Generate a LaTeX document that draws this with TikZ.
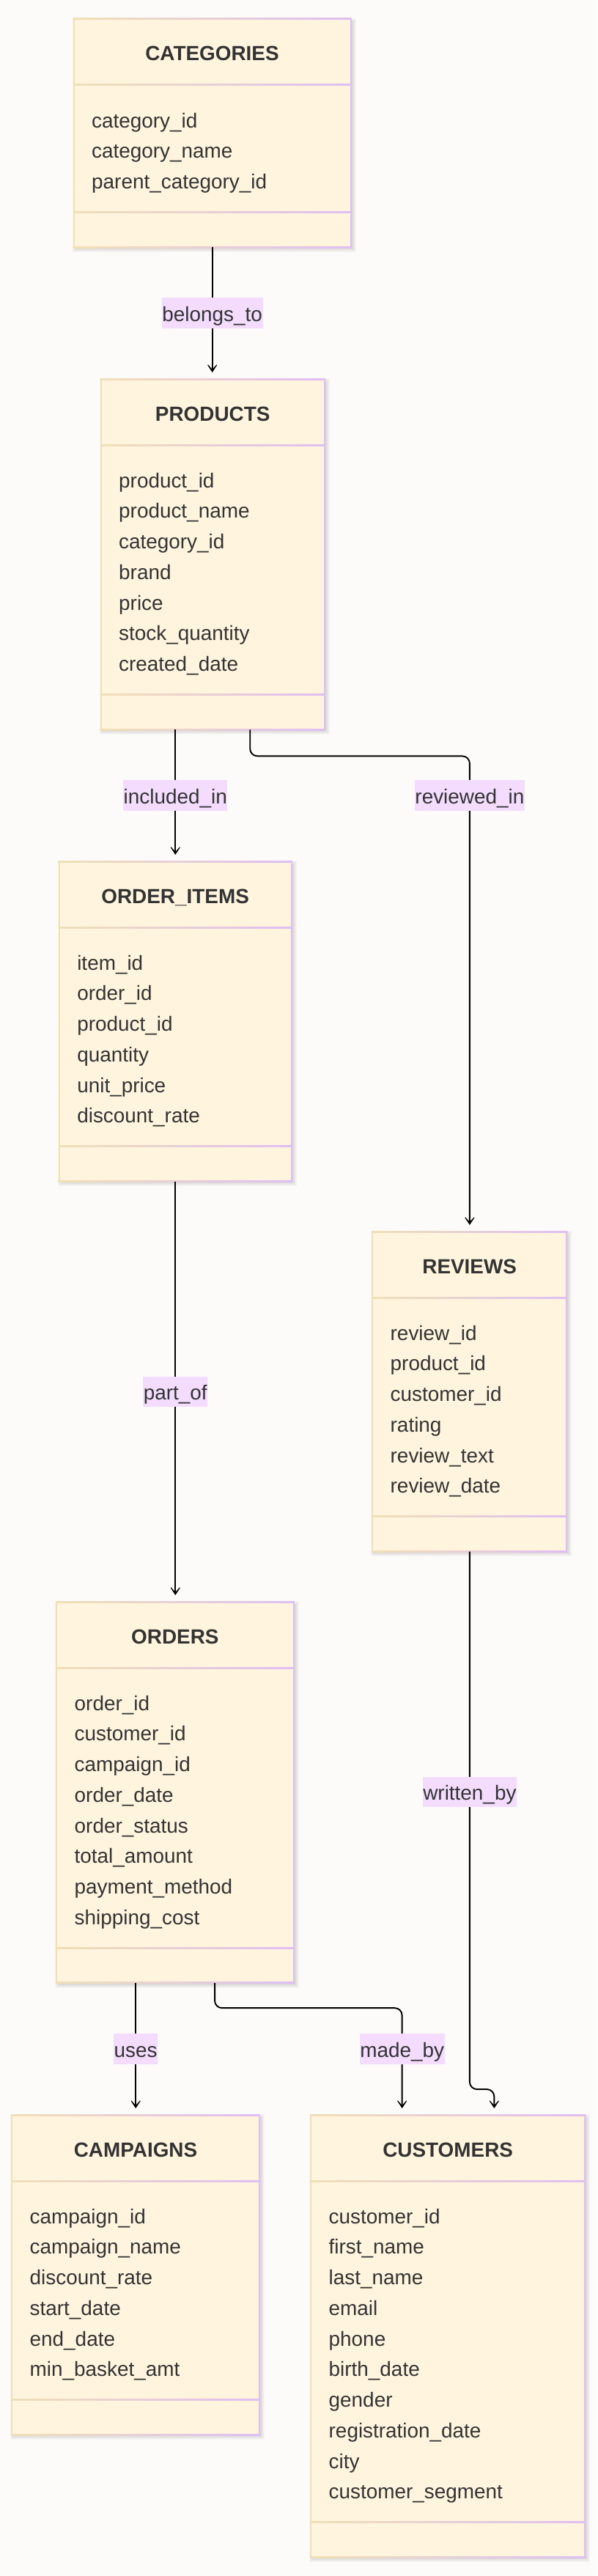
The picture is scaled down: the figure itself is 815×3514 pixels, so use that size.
\documentclass[tikz,border=0pt]{standalone}
\usepackage{fontspec}
\setmainfont{Liberation Sans}
\usetikzlibrary{arrows.meta}
\definecolor{bgc}{RGB}{253,251,250}
\definecolor{boxfill}{RGB}{255,245,223}
\definecolor{tanb}{RGB}{240,224,182}
\definecolor{lavb}{RGB}{223,190,245}
\definecolor{lblfill}{RGB}{243,220,254}
\definecolor{txt}{RGB}{51,51,51}
\tikzset{
  fld/.style={inner sep=0pt, text=txt, font=\fontsize{27.9pt}{33pt}\selectfont},
  ttl/.style={inner sep=0pt, text=txt, font=\fontsize{27.9pt}{33pt}\selectfont\bfseries},
  lbl/.style={fill=lblfill, text=txt, inner xsep=0.6pt, inner ysep=0pt, minimum height=41.6pt,
              text height=27pt, text depth=5pt, font=\fontsize{27.9pt}{33pt}\selectfont},
  conn/.style={draw=black, line width=1.9pt, shorten >=9pt,
              -{Stealth[length=16pt,width=21pt,inset=12pt]}},
}
\newcommand\erentity[7]{%
  \pgfmathsetmacro\eB{#4+227.5+41.75*(#5-1)}%
  \pgfmathsetmacro\eW{#3-#2}%
  \pgfmathsetmacro\eH{\eB-#4}%
  \pgfmathsetmacro\eS{\eB-47.5}%
  \pgfmathsetmacro\eC{(#2+#3)/2}%
  \foreach \k in {0,1,2,3,4,5}{\fill[black,opacity=0.022] (#2+3-\k,#4+4-\k) rectangle (#3+2+\k,\eB+2+\k);}
  \node[inner sep=0pt, minimum width={\eW pt}, minimum height={\eH pt}, fill=boxfill, anchor=north west] (#1) at (#2,#4) {};
  \shade[left color=tanb,right color=lavb] (#2-1,#4-1) rectangle (#3+1,#4+1);
  \shade[left color=tanb,right color=lavb] (#2-1,\eB-1) rectangle (#3+1,\eB+1);
  \shade[left color=tanb,right color=lavb] (#2,#4+89) rectangle (#3,#4+91);
  \shade[left color=tanb,right color=lavb] (#2,\eS-1) rectangle (#3,\eS+1);
  \fill[tanb] (#2-1,#4-1) rectangle (#2+1,\eB+1);
  \fill[lavb] (#3-1,#4-1) rectangle (#3+1,\eB+1);
  \node[ttl, anchor=base] (#1-title) at (\eC,#4+57) {#6};
  \foreach \f [count=\i from 0] in {#7}{\node[fld, anchor=base west] (#1-f\i) at (#2+24.5,#4+148+41.75*\i) {\f};}
}
\begin{document}
\begin{tikzpicture}[x=1pt,y=-1pt]
\useasboundingbox (0,0) rectangle (815,3514);
\fill[bgc] (0,0) rectangle (815,3514);

\erentity{categories}{100.5}{478.5}{26}{3}{CATEGORIES}{category\_id,category\_name,parent\_category\_id}
\erentity{products}{137.5}{443}{517}{7}{PRODUCTS}{product\_id,product\_name,category\_id,brand,price,stock\_quantity,created\_date}
\erentity{orderitems}{80.6}{397.6}{1175}{6}{ORDER\_ITEMS}{item\_id,order\_id,product\_id,quantity,unit\_price,discount\_rate}
\erentity{reviews}{508}{773.4}{1680}{6}{REVIEWS}{review\_id,product\_id,customer\_id,rating,review\_text,review\_date}
\erentity{orders}{77}{400.7}{2185}{8}{ORDERS}{order\_id,customer\_id,campaign\_id,order\_date,order\_status,total\_amount,payment\_method,shipping\_cost}
\erentity{campaigns}{16}{354}{2885}{6}{CAMPAIGNS}{campaign\_id,campaign\_name,discount\_rate,start\_date,end\_date,min\_basket\_amt}
\erentity{customers}{424}{798.3}{2885}{10}{CUSTOMERS}{customer\_id,first\_name,last\_name,email,phone,birth\_date,gender,registration\_date,city,customer\_segment}

% belongs_to
\draw[conn] (categories.south) -- (categories.south |- products.north) node[lbl, midway] (lbelongs) {belongs\_to};
% included_in
\draw[conn] (orderitems.north |- products.south) -- (orderitems.north) node[lbl, midway] (lincl) {included\_in};
% reviewed_in
\draw[conn, rounded corners=10pt] ([xshift=50.75pt]products.south) -- ++(0,36) -| (reviews.north);
\node[lbl] (lrev) at (reviews.north |- lincl) {reviewed\_in};
% part_of
\draw[conn] (orderitems.south) -- (orderitems.south |- orders.north) node[lbl, midway] (lpart) {part\_of};
% written_by
\coordinate (wbend) at ([xshift=63pt]customers.north);
\draw[conn, rounded corners=10pt] (reviews.south) -- (reviews.south |- 0,2850) -| (wbend);
\node[lbl] (lwritten) at (reviews.south |- 0,2444.5) {written\_by};
% uses
\draw[conn] (campaigns.north |- orders.south) -- (campaigns.north) node[lbl, midway] (luses) {uses};
% made_by
\coordinate (mbend) at ([xshift=-62.7pt]customers.north);
\draw[conn, rounded corners=10pt] ([xshift=54pt]orders.south) -- ++(0,34) -| (mbend);
\node[lbl] (lmade) at (mbend |- luses) {made\_by};
\end{tikzpicture}
\end{document}
